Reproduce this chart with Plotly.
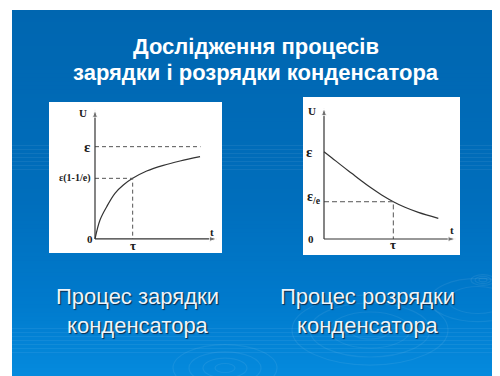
import plotly.graph_objects as go

# ---- data (t in units of tau, U in units of emf) ----
charge_t = [0.0, 0.133, 0.31, 0.53, 0.752, 1.0, 1.372, 1.814, 2.257, 2.788]
charge_u = [0.0, 0.206, 0.35, 0.495, 0.585, 0.657, 0.736, 0.798, 0.845, 0.892]
charge_eps = 1.0
charge_level = 0.657   # U at t = tau, "e(1-1/e)"
charge_eps_end = 2.80  # where the dashed emf line stops

discharge_t = [0.0, 0.111, 0.255, 0.399, 0.543, 0.688, 0.832, 1.0, 1.168, 1.361, 1.649]
discharge_u = [1.0, 0.931, 0.840, 0.752, 0.664, 0.580, 0.504, 0.427, 0.363, 0.305, 0.237]
discharge_level = 0.427  # U at t = tau, "e/e"

tau = 1.0

title_lines = ["Дослідження процесів", "зарядки і розрядки конденсатора"]
captions = ["Процес зарядки<br>конденсатора", "Процес розрядки<br>конденсатора"]

# the page body has an 8px margin, so the figure starts at (8, 8) of the window
OFF = 8
W, H = 500 - OFF, 376 - OFF
serif = "Liberation Serif"
sans = "Liberation Sans"


def px_x(p):
    return (p - OFF) / W


def px_y(p):
    return 1 - (p - OFF) / H


fig = go.Figure()

# ---- slide background: blue gradient made of thin bands ----
stops = [(10, (0, 102, 176)), (200, (0, 110, 188)), (300, (0, 122, 204)), (376, (5, 138, 221))]


def grad(y):
    for (y0, c0), (y1, c1) in zip(stops[:-1], stops[1:]):
        if y <= y1:
            f = (y - y0) / (y1 - y0)
            return "rgb(%d,%d,%d)" % tuple(round(a + (b - a) * f) for a, b in zip(c0, c1))
    return "rgb(%d,%d,%d)" % stops[-1][1]


shapes = []
n_bands = 92
for i in range(n_bands):
    y0 = 10 + (376 - 10) * i / n_bands
    y1 = min(10 + (376 - 10) * (i + 1) / n_bands + 0.6, 376)
    shapes.append(dict(type="rect", xref="paper", yref="paper", layer="below",
                       x0=px_x(12), x1=1, y0=px_y(y1), y1=px_y(y0),
                       fillcolor=grad((y0 + y1) / 2), line_width=0))

# faint water ripples
for cx, cy, radii in [(483, 280, [4, 8, 12]), (370, 330, [20, 40, 60, 78]),
                      (225, 368, [10, 22, 36, 52]), (478, 300, [30, 48])]:
    for r in radii:
        shapes.append(dict(type="circle", xref="paper", yref="paper", layer="below",
                           x0=px_x(cx - r), x1=px_x(cx + r),
                           y0=px_y(cy + r * 0.45), y1=px_y(cy - r * 0.45),
                           line=dict(color="rgba(255,255,255,0.07)", width=1.2)))

# white panels behind the two charts
for x0, x1, y0, y1 in [(49, 222, 102, 253), (303, 460, 97, 255)]:
    shapes.append(dict(type="rect", xref="paper", yref="paper", layer="below",
                       x0=px_x(x0), x1=px_x(x1), y0=px_y(y1), y1=px_y(y0),
                       fillcolor="white", line_width=0))

line_col = "#333333"
dash_col = "#555555"

# ---- left chart: charging ----
fig.add_trace(go.Scatter(x=charge_t, y=charge_u, mode="lines", line=dict(color=line_col, width=1.2, shape="spline"),
                         xaxis="x", yaxis="y", showlegend=False, hoverinfo="skip"))
fig.add_trace(go.Scatter(x=[0, charge_eps_end], y=[charge_eps, charge_eps], mode="lines",
                         line=dict(color=dash_col, width=1, dash="4px,3px"), xaxis="x", yaxis="y", showlegend=False))
fig.add_trace(go.Scatter(x=[0, tau, tau], y=[charge_level, charge_level, 0], mode="lines",
                         line=dict(color=dash_col, width=1, dash="4px,3px"), xaxis="x", yaxis="y", showlegend=False))
fig.add_trace(go.Scatter(x=[0, 3.24], y=[0, 0], mode="lines+markers", line=dict(color=line_col, width=1.2),
                         marker=dict(symbol="arrow", angleref="previous", size=[0, 8], color=line_col),
                         xaxis="x", yaxis="y", showlegend=False))
fig.add_trace(go.Scatter(x=[0, 0], y=[0, 1.40], mode="lines+markers", line=dict(color=line_col, width=1.2),
                         marker=dict(symbol="arrow", angleref="previous", size=[0, 8], color=line_col),
                         xaxis="x", yaxis="y", showlegend=False))

# ---- right chart: discharging ----
fig.add_trace(go.Scatter(x=discharge_t, y=discharge_u, mode="lines", line=dict(color=line_col, width=1.2, shape="spline"),
                         xaxis="x2", yaxis="y2", showlegend=False, hoverinfo="skip"))
fig.add_trace(go.Scatter(x=[0, tau, tau], y=[discharge_level, discharge_level, 0], mode="lines",
                         line=dict(color=dash_col, width=1, dash="5px,3px"), xaxis="x2", yaxis="y2", showlegend=False))
fig.add_trace(go.Scatter(x=[0, 1.90], y=[0, 0], mode="lines+markers", line=dict(color=line_col, width=1.2),
                         marker=dict(symbol="arrow", angleref="previous", size=[0, 8], color=line_col),
                         xaxis="x2", yaxis="y2", showlegend=False))
fig.add_trace(go.Scatter(x=[0, 0], y=[0, 1.50], mode="lines+markers", line=dict(color=line_col, width=1.2),
                         marker=dict(symbol="arrow", angleref="previous", size=[0, 8], color=line_col),
                         xaxis="x2", yaxis="y2", showlegend=False))

ann = []


def lab(text, x, y, ax, size=11, xanchor="center", yanchor="middle"):
    ann.append(dict(text="<b>%s</b>" % text, x=x, y=y, xref=ax[0], yref=ax[1],
                    showarrow=False, xanchor=xanchor, yanchor=yanchor,
                    font=dict(family=serif, size=size, color="#1a1a1a")))


L = ("x", "y")
R = ("x2", "y2")
lab("U", -0.31, 1.37, L)
lab("ε", -0.20, charge_eps, L, size=15)
lab("ε(1-1/e)", -0.08, charge_level, L, size=10, xanchor="right")
lab("0", -0.13, 0, L)
lab("τ", tau, -0.07, L, size=13)
lab("t", 3.10, 0.08, L)

lab("U", -0.18, 1.47, R)
lab("ε", -0.21, charge_eps, R, size=15)
lab("ε<sub>/e</sub>", -0.14, discharge_level + 0.05, R, size=14)
lab("0", -0.19, 0, R)
lab("τ", tau, -0.06, R, size=13)
lab("t", 1.84, 0.10, R)

# ---- slide text ----
for i, line in enumerate(title_lines):
    ann.append(dict(text="<b>%s</b>" % line, x=px_x(256), y=px_y(46 + 27 * i), xref="paper", yref="paper",
                    showarrow=False, xanchor="center", yanchor="middle",
                    font=dict(family=sans, size=22, color="white")))
for cx, text in zip([137, 367], captions):
    ann.append(dict(text=text, x=px_x(cx), y=px_y(311), xref="paper", yref="paper",
                    showarrow=False, xanchor="center", yanchor="middle", align="center",
                    font=dict(family=sans, size=22, color="#eef4fa", shadow="1px 1px 1px #0a2a4a")))

ax_hidden = dict(visible=False, showgrid=False, zeroline=False, fixedrange=True)
fig.update_layout(
    width=W, height=H,
    margin=dict(l=0, r=0, t=0, b=0),
    paper_bgcolor="white",
    plot_bgcolor="rgba(0,0,0,0)",
    shapes=shapes,
    annotations=ann,
    xaxis=dict(domain=[px_x(49), px_x(222)], range=[-1.221, 3.371], **ax_hidden),
    yaxis=dict(domain=[px_y(253), px_y(102)], range=[-0.152, 1.484], **ax_hidden),
    xaxis2=dict(domain=[px_x(303), px_x(460)], range=[-0.303, 1.962], **ax_hidden),
    yaxis2=dict(domain=[px_y(255), px_y(97)], range=[-0.183, 1.626], **ax_hidden),
)

fig.write_html("out.html", config={"displayModeBar": False})
